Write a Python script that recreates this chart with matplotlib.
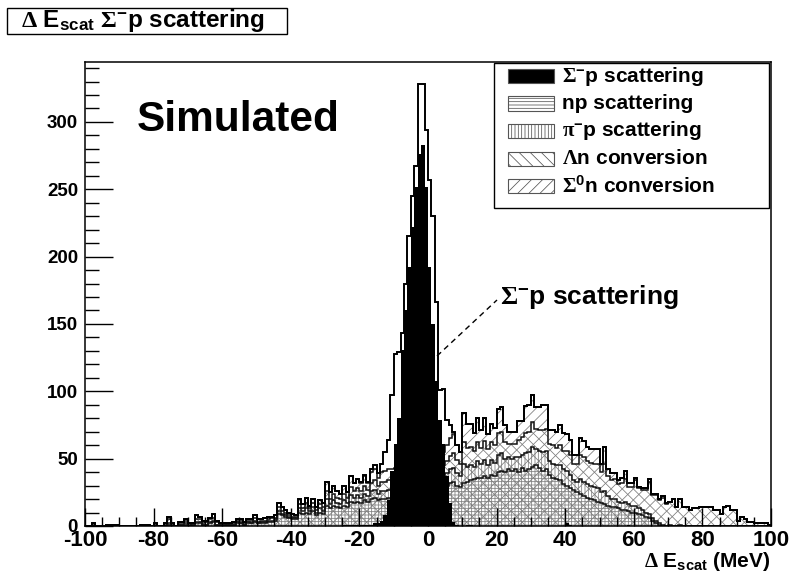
import numpy as np
import matplotlib.pyplot as plt
from matplotlib.patches import Rectangle
from matplotlib.lines import Line2D

plt.rcParams['font.family'] = ['Liberation Sans', 'DejaVu Sans']
plt.rcParams['font.weight'] = 'bold'
plt.rcParams['mathtext.fontset'] = 'custom'
plt.rcParams['mathtext.rm'] = 'Liberation Serif'
plt.rcParams['mathtext.bf'] = 'Liberation Sans:bold'
plt.rcParams['mathtext.it'] = 'Liberation Serif:italic'
plt.rcParams['hatch.linewidth'] = 0.55
plt.rcParams['axes.unicode_minus'] = False

# 1 MeV bins, -100 .. 100
edges = np.arange(-100, 101, 1)

# Sigma- p scattering (black, selected)
sigma_p = np.array(
    [0]*75 +
    [1, 1, 1, 1, 1,                                  # -25 .. -21
     1, 1, 1, 1, 2, 2, 4, 8, 19, 41,                 # -20 .. -11
     61, 80, 131, 160, 192, 222, 252, 276, 283, 252,  # -10 .. -1
     192, 150, 108, 79, 61, 37, 17, 3, 1, 0,          # 0 .. 9
     0, 1, 1, 0, 0, 0, 0, 0, 0, 0,                    # 10 .. 19
     0, 0, 0, 0, 0, 0, 0, 0, 0, 0,
     0, 0, 0, 0, 0, 0, 0, 0, 0, 0,
     2, 1, 0, 0, 0, 0, 0, 0, 0, 0,                    # 40 .. 49
     0, 0, 0, 0, 0, 0, 0, 0, 1, 0] +
    [0]*40)

# Sigma- p scattering, all events (drawn hollow on top of the stack)
sigma_all = np.array(
    [0]*80 +
    [1, 1, 1, 2, 3, 3, 6, 14, 22, 55,                 # -20 .. -11
     85, 86, 99, 136, 170, 200, 221, 282, 281, 247,   # -10 .. -1
     209, 181, 116, 49, 47, 19, 10, 2, 0, 0] +        # 0 .. 9
    [0]*90)

np_scat = np.array(
    [0]*10 + [0]*10 +
    [0, 0, 0, 0, 1, 0, 0, 1, 1, 1,          # -80
     0, 1, 2, 2, 1, 1, 2, 3, 1, 1,          # -70
     1, 1, 1, 1, 2, 2, 1, 2, 2, 3,          # -60
     2, 2, 2, 3, 3, 4, 9, 8, 7, 6,          # -50
     5, 5, 10, 9, 10, 9, 11, 8, 10, 9,      # -40
     15, 13, 15, 14, 13, 15, 14, 18, 17, 18,  # -30
     17, 19, 18, 20, 21, 19, 20, 20, 21, 21,  # -20
     22, 22, 23, 23, 24, 24, 25, 25, 26, 26,  # -10
     26, 27, 27, 28, 29, 30, 32, 33, 30, 29,  # 0
     32, 33, 34, 35, 36, 36, 37, 36, 38, 37,  # 10
     40, 41, 40, 42, 41, 42, 40, 43, 41, 42,  # 20
     44, 45, 43, 41, 42, 38, 36, 35, 34, 31,  # 30
     30, 28, 27, 25, 24, 22, 21, 20, 19, 18,  # 40
     17, 16, 15, 14, 14, 13, 12, 12, 11, 10,  # 50
     10, 9, 8, 7, 6, 4, 2, 1, 0, 0] +        # 60
    [0]*30)

pip_scat = np.array(
    [0]*10 + [0]*10 +
    [0, 0, 0, 0, 1, 0, 0, 0, 0, 1,
     0, 0, 1, 1, 0, 0, 1, 1, 0, 0,
     0, 0, 0, 0, 1, 0, 0, 1, 0, 1,
     0, 1, 1, 1, 1, 1, 2, 1, 1, 1,
     1, 1, 3, 2, 3, 2, 3, 2, 3, 2,
     5, 3, 4, 3, 3, 4, 3, 5, 4, 5,
     4, 5, 4, 6, 6, 5, 6, 6, 6, 6,
     6, 6, 6, 6, 6, 6, 6, 6, 6, 6,
     6, 6, 7, 7, 8, 9, 10, 10, 9, 8,
     14, 11, 11, 9, 12, 10, 12, 9, 11, 10,
     13, 13, 10, 9, 9, 9, 11, 10, 13, 13,
     15, 12, 13, 14, 14, 10, 10, 10, 11, 11,
     11, 10, 7, 8, 11, 11, 10, 10, 10, 10,
     8, 10, 7, 6, 6, 5, 5, 6, 5, 5,
     5, 4, 4, 3, 3, 2, 2, 1, 1, 0,
     1, 0, 0, 1, 0, 0, 0, 0, 0, 0] +
    [0]*20)

lam_conv = np.array(
    [0, 0, 1, 0, 0, 0, 1, 0, 1, 0,
     0, 0, 0, 0, 0, 0, 1, 0, 1, 0,
     1, 0, 0, 1, 3, 1, 0, 1, 1, 2,
     1, 1, 2, 2, 1, 2, 2, 2, 2, 1,
     1, 0, 1, 1, 1, 2, 1, 1, 2, 2,
     1, 1, 1, 1, 2, 1, 3, 2, 2, 1,
     1, 1, 3, 2, 4, 2, 3, 2, 3, 3,
     6, 4, 5, 4, 4, 5, 4, 6, 5, 5,
     5, 6, 5, 6, 7, 6, 7, 7, 7, 7,
     7, 7, 7, 7, 7, 7, 7, 7, 7, 7,
     7, 7, 7, 8, 8, 9, 10, 11, 10, 9,
     16, 14, 14, 12, 14, 12, 14, 12, 13, 13,
     16, 16, 12, 10, 11, 10, 13, 13, 15, 15,
     18, 15, 15, 16, 16, 13, 14, 13, 15, 14,
     15, 15, 12, 13, 18, 18, 17, 17, 17, 18,
     15, 20, 15, 14, 15, 13, 15, 17, 13, 14,
     19, 15, 15, 17, 24, 17, 19, 17, 20, 16,
     17, 20, 14, 19, 14, 14, 12, 13, 13, 14,
     14, 14, 14, 12, 12, 9, 14, 15, 12, 12,
     4, 7, 5, 3, 3, 2, 2, 2, 2, 1])

sig0_conv = np.array(
    [0, 0, 1, 0, 0, 0, 0, 1, 0, 1,
     0, 0, 0, 0, 0, 0, 0, 1, 0, 0,
     1, 0, 0, 1, 2, 1, 0, 1, 1, 1,
     1, 0, 3, 2, 2, 1, 1, 3, 1, 0,
     0, 1, 0, 1, 1, 1, 1, 1, 1, 2,
     2, 1, 2, 2, 1, 2, 3, 3, 2, 2,
     2, 1, 4, 3, 4, 2, 3, 2, 3, 3,
     7, 5, 6, 5, 4, 6, 4, 8, 6, 7,
     6, 7, 5, 8, 8, 6, 7, 8, 8, 8,
     8, 8, 8, 8, 8, 8, 8, 8, 8, 8,
     9, 9, 9, 9, 10, 12, 13, 14, 11, 9,
     22, 18, 17, 13, 18, 13, 17, 11, 14, 13,
     18, 18, 13, 9, 9, 9, 14, 12, 20, 20,
     20, 16, 17, 19, 18, 10, 11, 12, 15, 13,
     12, 11, 7, 7, 12, 12, 11, 10, 11, 11,
     6, 13, 5, 5, 4, 3, 4, 6, 3, 3,
     2, 1, 1, 1, 2, 1, 1, 1, 1, 1] +
    [0]*30)

legend_labels = [r'$\mathrm{\Sigma}^{\mathbf{-}}$p scattering',
                 'np scattering',
                 r'$\mathrm{\pi}^{\mathbf{-}}$p scattering',
                 r'$\mathrm{\Lambda}$n conversion',
                 r'$\mathrm{\Sigma}^{\mathbf{0}}$n conversion']

W, H = 791, 574
fig = plt.figure(figsize=(W / 100, H / 100), dpi=100)


def fx(x):
    return x / W


def fy(y):
    return 1 - y / H


ax = fig.add_axes([fx(85), fy(526), fx(771) - fx(85), fy(62) - fy(526)])

# stacked background levels, each filled from zero with its own hatch
lev1 = np_scat
lev2 = lev1 + pip_scat
lev3 = lev2 + lam_conv
lev4 = lev3 + sig0_conv
total = lev4 + sigma_all

hcol = '#7a7a7a'
hatches = ['-----', '|||||', '\\\\\\', '///']
levels = [lev1, lev2, lev3, lev4]
for lev, h in reversed(list(zip(levels, hatches))):
    ax.stairs(lev, edges, fill=True, facecolor='none', edgecolor=hcol,
              hatch=h, linewidth=0)
for lev in levels:
    ax.stairs(lev, edges, color='#111111', linewidth=1.1)

ax.stairs(sigma_p, edges, fill=True, color='black', linewidth=0)
ax.stairs(total, edges, color='black', linewidth=1.4)

ax.set_xlim(-100, 100)
ax.set_ylim(0, 344.5)
ax.set_xticks(np.arange(-100, 101, 20))
ax.set_xticks(np.arange(-100, 101, 5), minor=True)
ax.set_yticks(np.arange(0, 301, 50))
ax.set_yticks(np.arange(0, 341, 10), minor=True)
ax.tick_params(axis='both', which='both', direction='in', top=False,
               right=False, width=1, color='black')
ax.tick_params(axis='y', which='major', length=20, labelsize=13.5, pad=5)
ax.tick_params(axis='y', which='minor', length=10)
ax.tick_params(axis='x', which='major', length=13, labelsize=16, pad=3)
ax.tick_params(axis='x', which='minor', length=6.5)
for s in ax.spines.values():
    s.set_linewidth(1.1)

fig.text(fx(770), fy(567), r'$\mathrm{\Delta}$ E$_{\mathbf{scat}}$ (MeV)',
         ha='right', va='baseline', fontsize=15)

# title box
fig.text(fx(21), fy(20), r'$\mathrm{\Delta}$ E$_{\mathbf{scat}}$ '
         r'$\mathrm{\Sigma}^{\mathbf{-}}$p scattering',
         ha='left', va='center', fontsize=17.5)
fig.add_artist(Rectangle((fx(7), fy(34)), fx(287) - fx(7), fy(8) - fy(34),
                         transform=fig.transFigure, facecolor='none',
                         edgecolor='black', linewidth=1))

fig.text(fx(137), fy(120), 'Simulated', ha='left', va='center', fontsize=30.5)

# annotation
fig.text(fx(500), fy(297), r'$\mathrm{\Sigma}^{\mathbf{-}}$p scattering',
         ha='left', va='center', fontsize=19)
fig.add_artist(Line2D([fx(437), fx(497)], [fy(356), fy(300)],
                      color='black', linewidth=1, linestyle=(0, (4, 3))))

# legend drawn by hand in figure pixels
fig.add_artist(Rectangle((fx(494), fy(208)), fx(769) - fx(494),
                         fy(63) - fy(208), transform=fig.transFigure,
                         facecolor='white', edgecolor='black', linewidth=1))
row_y = [76, 103.5, 131, 158.5, 186]
for i, (lab, yy) in enumerate(zip(legend_labels, row_y)):
    if i == 0:
        fc, h = 'black', None
    else:
        fc, h = 'white', hatches[i - 1]
    fig.add_artist(Rectangle((fx(508), fy(yy + 7)), fx(554) - fx(508),
                             fy(yy - 7) - fy(yy + 7),
                             transform=fig.transFigure, facecolor=fc,
                             edgecolor='#555555', hatch=h, linewidth=0.8))
    fig.text(fx(562), fy(yy), lab, ha='left', va='center', fontsize=15)

fig.savefig('out.png', dpi=100)
